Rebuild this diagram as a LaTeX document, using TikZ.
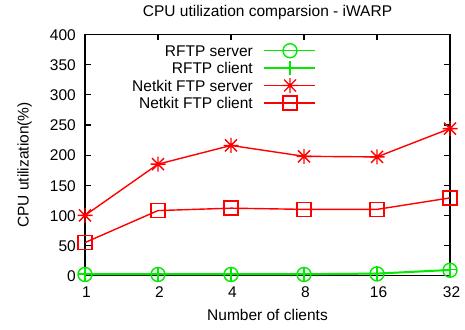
\documentclass[tikz,border=0pt]{standalone}
\usepackage{fontspec}
\setmainfont{Liberation Sans}
\tikzset{
  axisline/.style={line width=1.1pt, black},
  serieswidth/.style={line width=1.4pt},
  lbl/.style={inner sep=0pt, font=\fontsize{15.5}{18}\selectfont},
  mcircle/.pic={\draw[serieswidth] (0,0) circle (7);},
  mplus/.pic={\draw[serieswidth] (-7,0) -- (7,0) (0,-7) -- (0,7);},
  mstar/.pic={\draw[serieswidth] (-7.5,0) -- (7.5,0) (0,-7.5) -- (0,7.5) (-6,-6) -- (6,6) (-6,6) -- (6,-6);},
  msquare/.pic={\draw[serieswidth] (-7,-7) rectangle (7,7);},
}
\definecolor{sgreen}{RGB}{0,235,0}
\definecolor{sred}{RGB}{255,0,0}
% y in data units (percent) -> page position
\newcommand{\py}[1]{275.7-0.603*#1}
% one data series: colour, six values, marker pic, name prefix
\newcommand{\series}[4]{%
  \foreach \v [count=\i from 0] in {#2} {
    \coordinate (#4\i) at ({85+73*\i},{\py{\v}});
  }
  \draw[#1, serieswidth] (#40) -- (#41) -- (#42) -- (#43) -- (#44) -- (#45);
  \foreach \i in {0,...,5} {
    \pic[#1] at (#4\i) {#3};
  }%
}
\begin{document}
\begin{tikzpicture}[x=1pt,y=-1pt]
\useasboundingbox (0,0) rectangle (465,329);
\fill[white] (0,0) rectangle (465,329);

% frame corners
\coordinate (ll) at (85,275.7);
\coordinate (ur) at (450,34.5);

% y ticks and labels
\foreach \v in {0,50,...,400} {
  \draw[axisline] (85,{\py{\v}}) -- ++(6,0);
  \draw[axisline] (450,{\py{\v}}) -- ++(-6,0);
  \node[lbl, anchor=base east] (yt\v) at (76,{\py{\v}+5.8}) {\v};
}
% x ticks and labels
\foreach \lab [count=\i from 0] in {1,2,4,8,16,32} {
  \draw[axisline] ({85+73*\i},275.7) -- ++(0,-6);
  \draw[axisline] ({85+73*\i},34.5) -- ++(0,6);
  \node[lbl, anchor=base] (xt\i) at ({86.5+73*\i},297) {\lab};
}
\draw[axisline] (ll) rectangle (ur);

% titles
\node[lbl, anchor=base] (title) at (267.5,16.7) {CPU utilization comparsion - iWARP};
\node[lbl, anchor=base] (xlabel) at (267.5,320.5) {Number of clients};
\node[lbl, anchor=base, rotate=90] (ylabel) at (28.5,165) {CPU utilization(\%)};

% data series
\series{sred}{55,108,112,110,110,129}{msquare}{nc}
\series{sred}{100,185,216,198,197,244}{mstar}{ns}
\series{sgreen}{3,3,3,3,4,10}{mplus}{rc}
\series{sgreen}{2,2,2,2,3,9}{mcircle}{rs}

% legend
\foreach \name/\col/\mk [count=\k from 0] in
  {RFTP server/sgreen/mcircle, RFTP client/sgreen/mplus,
   Netkit FTP server/sred/mstar, Netkit FTP client/sred/msquare} {
  \node[lbl, anchor=base east] (leg\k) at (253,{50.7+17.4*\k+5.5}) {\name};
  \coordinate (la\k) at (264,{50.7+17.4*\k});
  \coordinate (lb\k) at (315,{50.7+17.4*\k});
  \coordinate (lm\k) at (290,{50.7+17.4*\k});
  \draw[\col, serieswidth] (la\k) -- (lb\k);
  \pic[\col] at (lm\k) {\mk};
}
\end{tikzpicture}
\end{document}
